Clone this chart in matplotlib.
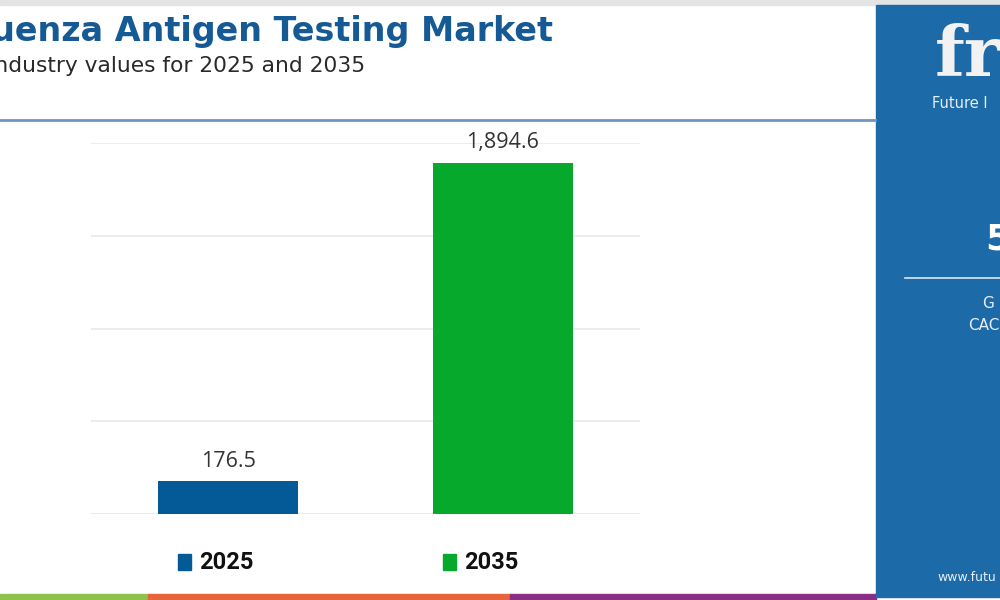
import matplotlib.pyplot as plt
from matplotlib.patches import Rectangle

years = ['2025', '2035']
values = [176.5, 1894.6]
labels = ['176.5', '1,894.6']
colors = ['#045a96', '#07a92c']

fig = plt.figure(figsize=(10, 6), dpi=100)
fig.patch.set_facecolor('white')

# chart area
ax = fig.add_axes([0.091, 0.1433, 0.549, 0.6183])
x = range(len(years))
ax.bar(x, values, width=0.51, color=colors, zorder=3)
ax.set_xlim(-0.5, 1.5)
ax.set_ylim(0, 2000)
ax.set_yticks([0, 500, 1000, 1500, 2000])
ax.grid(axis='y', color='#ececec', linewidth=1.5, zorder=0)
ax.tick_params(left=False, bottom=False, labelleft=False, labelbottom=False)
for s in ax.spines.values():
    s.set_visible(False)
for i, v in enumerate(values):
    ax.annotate(labels[i], (i, v), xytext=(0, 7), textcoords='offset points',
                ha='center', va='bottom', fontsize=15.5, color='#333333',
                family='Open Sans')

# legend
for i, yr in enumerate(years):
    px = 0.178 + i * 0.265
    fig.patches.append(Rectangle((px, 0.05), 0.013, 0.026, transform=fig.transFigure,
                                 color=colors[i], figure=fig))
    fig.text(px + 0.021, 0.063, yr, fontsize=17, fontweight='bold',
             family='Roboto', color='#111111', va='center', ha='left')

# header
fig.text(0.553, 0.948, 'Influenza Antigen Testing Market', ha='right', va='center',
         fontsize=24, fontweight='bold', color='#155a94', family='DejaVu Sans')
fig.text(0.365, 0.89, 'Industry values for 2025 and 2035', ha='right', va='center',
         fontsize=15.7, color='#2a2a2a', family='DejaVu Sans')
fig.add_artist(plt.Line2D([0, 0.875], [0.8, 0.8], transform=fig.transFigure,
                          color='#6d97c2', linewidth=2))
fig.patches.append(Rectangle((0, 0.992), 1, 0.008, transform=fig.transFigure,
                             color='#e4e4e4', figure=fig))

# bottom stripe
for x0, w, c in [(0, 0.148, '#8dc24b'), (0.148, 0.362, '#e8653c'), (0.51, 0.366, '#8b2f86')]:
    fig.patches.append(Rectangle((x0, 0), w, 0.01, transform=fig.transFigure,
                                 color=c, figure=fig))

# right side panel
fig.patches.append(Rectangle((0.876, 0.005), 0.124, 0.987, transform=fig.transFigure,
                             color='#1d6aa8', figure=fig))
fig.text(0.935, 0.905, 'fr', fontsize=50, fontweight='bold', family='DejaVu Serif',
         color='#f2f2f2', ha='left', va='center')
fig.text(0.932, 0.828, 'Future I', fontsize=10.5, color='#e6eef7', ha='left', va='center')
fig.text(0.985, 0.6, '5', fontsize=26, fontweight='bold', color='white', ha='left', va='center')
fig.add_artist(plt.Line2D([0.905, 1], [0.537, 0.537], transform=fig.transFigure,
                          color='#d9e6f2', linewidth=1.2))
fig.text(0.982, 0.495, 'G', fontsize=11, color='#e6eef7', ha='left', va='center')
fig.text(0.968, 0.458, 'CAC', fontsize=11, color='#e6eef7', ha='left', va='center')
fig.text(0.937, 0.037, 'www.futu', fontsize=9, color='#e6eef7', ha='left', va='center')

fig.savefig('out.png', dpi=100)
